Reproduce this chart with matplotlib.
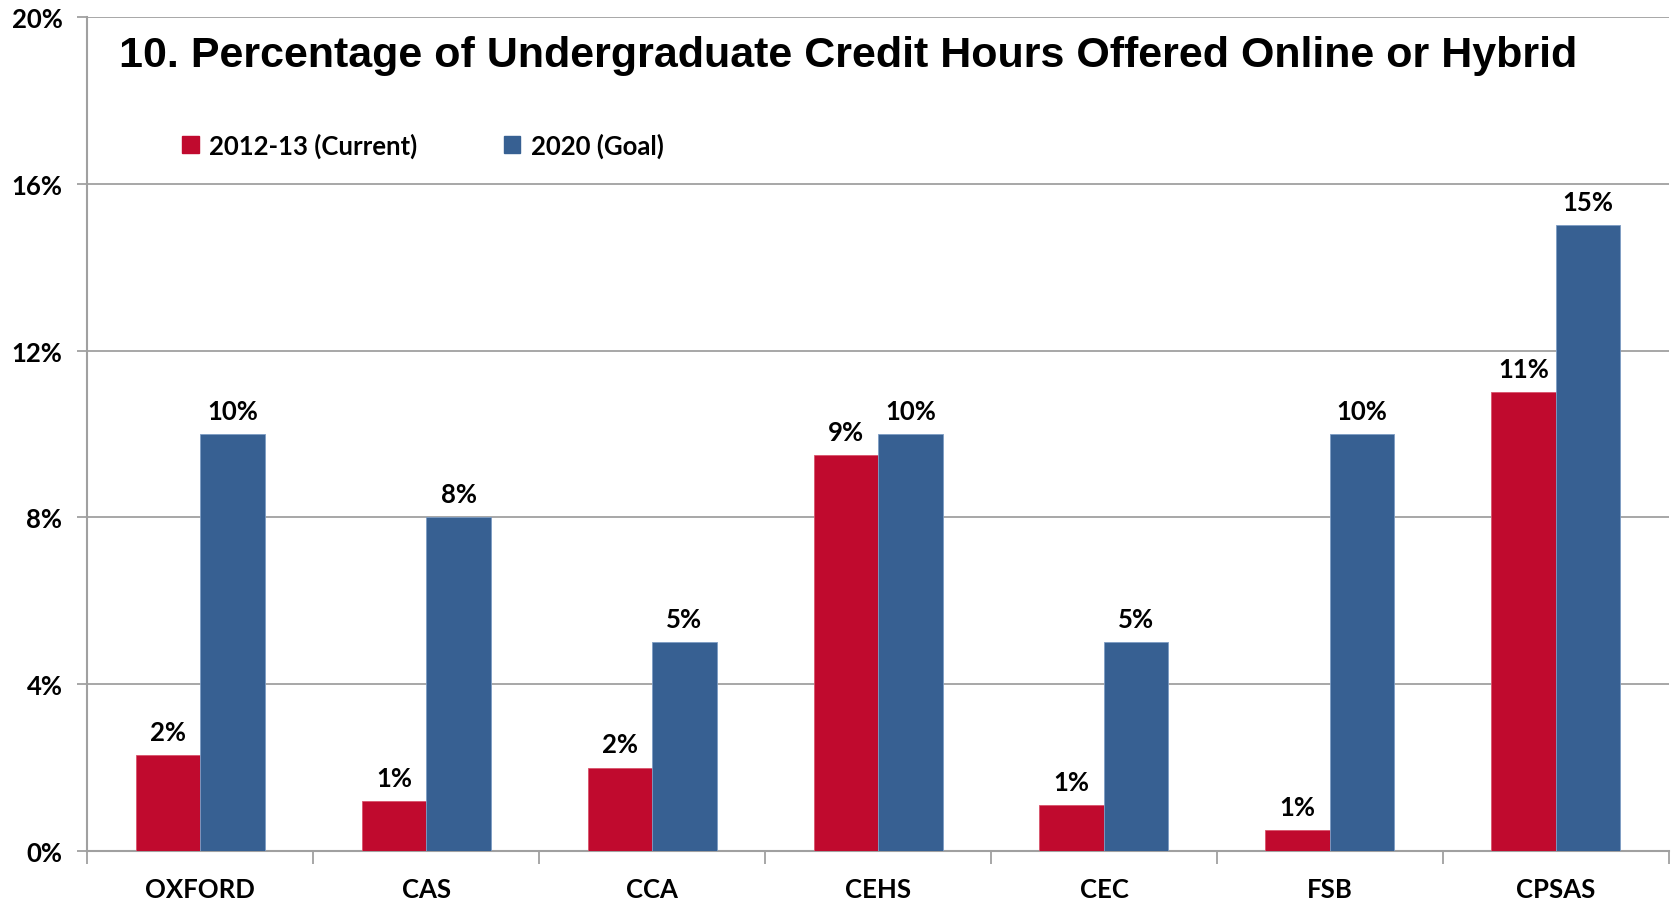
import numpy as np
import matplotlib.pyplot as plt
from matplotlib.patches import Patch

plt.rcParams['font.family'] = ['Lato', 'DejaVu Sans']

# data
colleges = ["OXFORD", "CAS", "CCA", "CEHS", "CEC", "FSB", "CPSAS"]
current = [2.3, 1.2, 2.0, 9.5, 1.1, 0.5, 11.0]
goal = [10, 8, 5, 10, 5, 10, 15]
current_labels = ["2%", "1%", "2%", "9%", "1%", "1%", "11%"]
goal_labels = ["10%", "8%", "5%", "10%", "5%", "10%", "15%"]
yticks = [0, 4, 8, 12, 16, 20]

red = "#C00A2E"
blue = "#376092"
grey = "#A0A0A0"

fig = plt.figure(figsize=(16.72, 9.03), dpi=100)
ax = fig.add_axes([0.0523, 0.0565, 0.9457, 0.9236])

x = np.arange(len(colleges))
w = 1 / 3.5
b1 = ax.bar(x - w / 2, current, w, color=red, edgecolor="#D9546B", linewidth=0.6, zorder=3)
b2 = ax.bar(x + w / 2, goal, w, color=blue, edgecolor="#7D9CC4", linewidth=0.6, zorder=3)

ax.bar_label(b1, labels=current_labels, padding=8, fontsize=18.5, fontweight='bold')
ax.bar_label(b2, labels=goal_labels, padding=8, fontsize=18.5, fontweight='bold')

ax.set_xlim(-0.5, len(colleges) - 0.5)
ax.set_ylim(0, 20)
ax.set_yticks(yticks)
ax.set_yticklabels([f"{t}%" for t in yticks], fontsize=18.5, fontweight='bold')
ax.set_xticks(x)
ax.set_xticklabels(colleges, fontsize=18.5, fontweight='bold')
ax.set_xticks(np.arange(len(colleges) + 1) - 0.5, minor=True)
ax.tick_params(axis='x', which='major', length=0, pad=19)
ax.tick_params(axis='x', which='minor', length=9, width=1.3, color=grey)
ax.tick_params(axis='y', length=7, width=1.3, color=grey, pad=11)

ax.grid(axis='y', color=grey, linewidth=1.3, zorder=0)
ax.set_axisbelow(True)
for s in ['top', 'right']:
    ax.spines[s].set_visible(False)
for s in ['left', 'bottom']:
    ax.spines[s].set_color(grey)
    ax.spines[s].set_linewidth(1.5)

ax.text(0.020, 0.955, "10. Percentage of Undergraduate Credit Hours Offered Online or Hybrid",
        transform=ax.transAxes, ha='left', va='center', fontsize=31,
        fontweight='bold', family='Liberation Sans')

handles = [Patch(color=red, label="2012-13 (Current)"), Patch(color=blue, label="2020 (Goal)")]
ax.legend(handles=handles, loc='center left', bbox_to_anchor=(0.060, 0.8465), ncol=2,
          frameon=False, prop={'weight': 'bold', 'size': 18.5},
          handlelength=0.65, handleheight=0.65, handletextpad=0.4, columnspacing=3.35,
          borderaxespad=0, borderpad=0)

fig.savefig("out.png", dpi=100)
